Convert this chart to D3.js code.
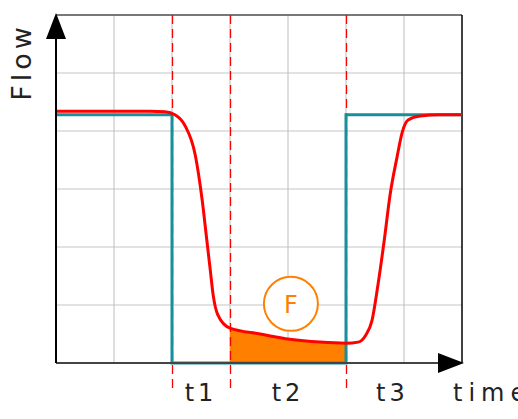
<!DOCTYPE html>
<meta charset="UTF-8"/>
<style>body{margin:0;background:#fff} * { font-family: 'DejaVu Sans' }</style>
<svg width="518" height="419"></svg>
<script src="https://d3js.org/d3.v7.min.js"></script>
<script>
// phase boundaries (time units)
var phases = [2, 3, 5];
var phaseLabels = ["t1", "t2", "t3"];
var labelPos = [2.5, 4, 5.8];

// ideal (step) flow
var stepT = [0, 2, 2, 5, 5, 7];
var stepQ = [4.28, 4.28, 0, 0, 4.28, 4.28];

// real flow
var flowT = [0, 1.62, 1.88, 2.05, 2.22, 2.40, 2.52, 2.60, 2.66, 2.71, 2.79, 3.0, 3.52, 4.03, 4.55, 5.0, 5.21, 5.34, 5.45, 5.55, 5.66, 5.76, 5.88, 5.97, 6.07, 6.28, 6.62, 7.0];
var flowQ = [4.34, 4.34, 4.33, 4.28, 4.10, 3.59, 2.81, 2.12, 1.60, 1.17, 0.83, 0.60, 0.50, 0.41, 0.36, 0.34, 0.36, 0.48, 0.74, 1.34, 2.12, 2.90, 3.55, 3.98, 4.19, 4.26, 4.28, 4.28];

var svg = d3.select("svg");
var x = d3.scaleLinear().domain([0, 7]).range([56, 462]);
var y = d3.scaleLinear().domain([0, 6]).range([363, 15]);

var step = stepT.map(function(t, i) { return [t, stepQ[i]]; });
var flow = flowT.map(function(t, i) { return [t, flowQ[i]]; });

// grid
svg.append("g").selectAll("line").data(d3.range(1, 7)).enter().append("line")
    .attr("x1", 56).attr("x2", 462)
    .attr("y1", function(d) { return y(d); }).attr("y2", function(d) { return y(d); })
    .attr("stroke", "#d8d8d8").attr("stroke-width", 1.5);
svg.append("g").selectAll("line").data(d3.range(1, 7)).enter().append("line")
    .attr("y1", 15).attr("y2", 363)
    .attr("x1", function(d) { return x(d); }).attr("x2", function(d) { return x(d); })
    .attr("stroke", "#bdbdbd").attr("stroke-width", 1);

// frame
svg.append("line").attr("x1", 56).attr("x2", 462).attr("y1", 15).attr("y2", 15)
    .attr("stroke", "#555").attr("stroke-width", 1.5);
svg.append("line").attr("x1", 462).attr("x2", 462).attr("y1", 15).attr("y2", 363)
    .attr("stroke", "#000").attr("stroke-width", 1.5);

// filled volume during t2
var area = d3.area()
    .x(function(d) { return x(d[0]); })
    .y0(y(0))
    .y1(function(d) { return y(d[1]); })
    .curve(d3.curveMonotoneX);
svg.append("path")
    .datum(flow.filter(function(d) { return d[0] >= 3 && d[0] <= 5; }))
    .attr("fill", "#ff8000")
    .attr("d", area);

// phase dashed lines
svg.append("g").selectAll("line").data(phases).enter().append("line")
    .attr("x1", function(d) { return Math.round(x(d)) + 0.5; }).attr("x2", function(d) { return Math.round(x(d)) + 0.5; })
    .attr("y1", 15).attr("y2", 388)
    .attr("stroke", "#ff0000").attr("stroke-width", 1.3)
    .attr("stroke-dasharray", "9,5");

// step line
svg.append("path")
    .datum(step)
    .attr("fill", "none").attr("stroke", "#17909c").attr("stroke-width", 3)
    .attr("d", d3.line().x(function(d) { return x(d[0]); }).y(function(d) { return y(d[1]); }));

// real flow
svg.append("path")
    .datum(flow)
    .attr("fill", "none").attr("stroke", "#ff0000").attr("stroke-width", 3)
    .attr("d", d3.line().x(function(d) { return x(d[0]); }).y(function(d) { return y(d[1]); }).curve(d3.curveMonotoneX));

// axes
svg.append("line").attr("x1", 56).attr("x2", 445).attr("y1", 363).attr("y2", 363)
    .attr("stroke", "#444").attr("stroke-width", 2);
svg.append("line").attr("x1", 56).attr("x2", 56).attr("y1", 30).attr("y2", 363)
    .attr("stroke", "#000").attr("stroke-width", 2);
svg.append("path").attr("d", "M56,13L46,39L66,39Z").attr("fill", "#000");
svg.append("path").attr("d", "M464,363L438,353L438,373Z").attr("fill", "#000");

// labels
svg.append("text")
    .attr("transform", "translate(31,62) rotate(-90)")
    .attr("text-anchor", "middle")
    .style("font-size", "27px").style("letter-spacing", "4px")
    .attr("fill", "#222")
    .text("Flow");

svg.append("g").selectAll("text").data(phaseLabels).enter().append("text")
    .attr("x", function(d, i) { return x(labelPos[i]); })
    .attr("y", 401)
    .attr("text-anchor", "middle")
    .style("font-size", "24px").style("letter-spacing", "4px")
    .attr("fill", "#222")
    .text(function(d) { return d; });

svg.append("text")
    .attr("x", 453).attr("y", 401)
    .style("font-size", "24px").style("letter-spacing", "6px")
    .attr("fill", "#222")
    .text("time");

// F marker
svg.append("circle").attr("cx", x(4.05)).attr("cy", y(1.02)).attr("r", 27)
    .attr("fill", "#fff").attr("stroke", "#ff8000").attr("stroke-width", 2);
svg.append("text").attr("x", x(4.05)).attr("y", y(1.02) + 9)
    .attr("text-anchor", "middle")
    .style("font-size", "24px")
    .attr("fill", "#ff8000")
    .text("F");
</script>
